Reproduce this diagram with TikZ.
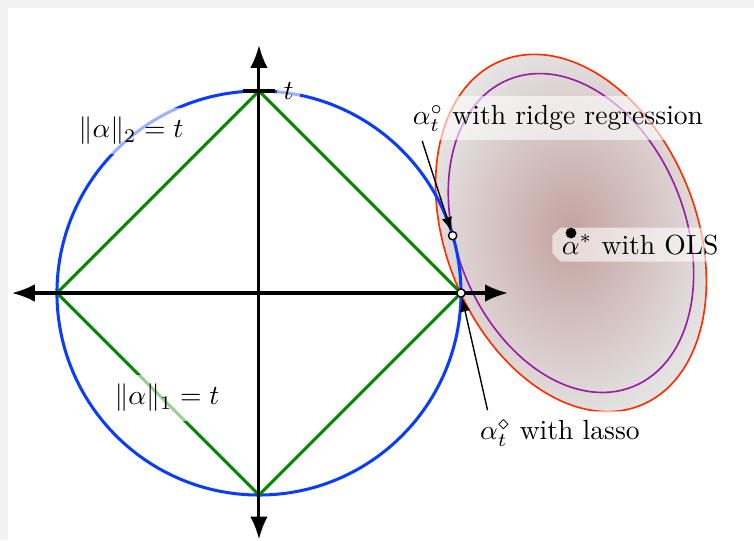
\documentclass[tikz,border=0pt]{standalone}
\usepackage{amsmath,amssymb}
\usetikzlibrary{arrows.meta,positioning,calc,shapes.misc}
\definecolor{frameGray}{HTML}{F2F2F2}
\definecolor{ltwo}     {HTML}{0A3CFF}
\definecolor{lone}     {HTML}{008800}
\definecolor{rss}      {HTML}{FF2E00}
\definecolor{rssMid}   {HTML}{9A1FA6}
\definecolor{rssIn}    {HTML}{C4A29F}
\definecolor{rssOut}   {HTML}{E6E6E6}
\tikzset{
  axis/.style={line width=1.1pt, {Latex[length=8.3pt,width=6.4pt]}-{Latex[length=8.3pt,width=6.4pt]}},
  note/.style={line width=0.5pt, -{Latex[length=5pt,width=3.8pt]}},
  lbl/.style={fill=white, fill opacity=0.6, text opacity=1},
  pt/.style={circle, draw, fill=white, line width=0.5pt, inner sep=0pt, minimum size=3pt}
}

\begin{document}
\begin{tikzpicture}[x=1.2853cm, y=1.2853cm]
 \useasboundingbox (-2.564,-2.446) rectangle (4.901,2.901);
 \fill[frameGray] (-2.564,-2.446) rectangle (4.901,2.901);
 \fill[white] (-2.485,-2.446) rectangle (4.901,2.822);
 % level sets of the squared error around the OLS solution
 \coordinate (olsc) at (3.089,0.594);
 \begin{scope}[shift={(olsc)}, rotate=-68]
  \shade[inner color=rssIn, outer color=rssOut] (0,0) ellipse (1.84 and 1.24);
  \draw[rss, line width=0.6pt] (0,0) ellipse (1.84 and 1.24);
  \draw[rssMid, line width=0.6pt] (0,0) ellipse (1.64 and 1.13);
 \end{scope}
 \draw[ltwo, line width=1.1pt] (0,0) circle (2);
 \draw[lone, line width=1.1pt] (2,0) -- (0,2) -- (-2,0) -- (0,-2) -- cycle;
 \draw[axis] (-2.446,0) -- (2.465,0);
 \draw[axis] (0,-2.44) -- (0,2.455);
 \draw[line width=1.1pt] (-0.16,2) -- (0.16,2) node[right, lbl, inner sep=2.5pt] (tlab) {$t$};
 \node[pt] (ridge) at (16.5:2) {};
 \node[pt] (lasso) at (2,0) {};
 \node[lbl] (ltwolab) at (-1.267,1.604) {$\|\alpha\|_2 = t$};
 \node[lbl] (lonelab) at (-0.911,-1.04) {$\|\alpha\|_1 = t$};
 \node[lbl] (ridgelab) at (2.96,1.73) {$\alpha_t^\circ$ with ridge regression};
 \node[lbl, chamfered rectangle, chamfered rectangle corners={north west,south west},
       chamfered rectangle xsep=1.5pt, chamfered rectangle ysep=1.5pt,
       inner xsep=2pt, inner ysep=1pt, anchor=north west] (olslab) at (2.941,0.61) {$\alpha^*$ with OLS};
 \node[circle, fill, inner sep=0pt, minimum size=3.9pt] (ols) at (olsc) {};
 \node[lbl] (lassolab) at (2.98,-1.386) {$\alpha_t^\diamond$ with lasso};
 \draw[note] ($(ridgelab.south west)+(0.19,0)$) -- (ridge);
 \draw[note] ($(lassolab.north west)+(0.17,0)$) -- (lasso);
\end{tikzpicture}
\end{document}
